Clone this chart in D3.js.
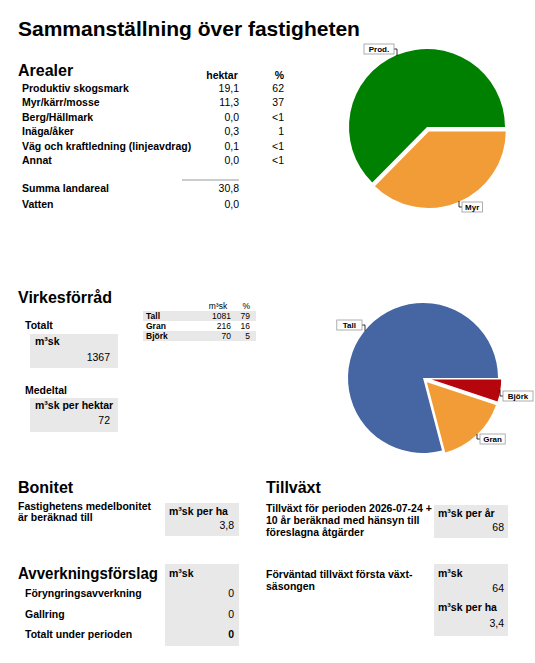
<!DOCTYPE html>
<meta charset="utf-8">
<style>
  body { margin: 0; background: #fff; }
  text { font-family: 'Liberation Sans', Arial, sans-serif; fill: #000; }
  .h1 { font-size: 21px; font-weight: bold; }
  .h2 { font-size: 16px; font-weight: bold; }
  .lbl { font-size: 10.5px; font-weight: bold; }
  .val { font-size: 10.5px; }
  .sm { font-size: 8.5px; }
  .tag { font-size: 8px; font-weight: bold; }
</style>
<script src="https://d3js.org/d3.v7.min.js"></script>
<div id="chart"></div>
<script>
// areal data
var arealNames = ["Produktiv skogsmark", "Myr/kärr/mosse", "Berg/Hällmark", "Inäga/åker", "Väg och kraftledning (linjeavdrag)", "Annat"];
var arealHa = ["19,1", "11,3", "0,0", "0,3", "0,1", "0,0"];
var arealPct = ["62", "37", "<1", "1", "<1", "<1"];
var pieArealLabels = ["Prod.", "Myr"];
var pieArealValues = [62, 37];
var pieArealColors = ["#008000", "#f29c38"];

// virkesförråd data
var tradslag = ["Tall", "Gran", "Björk"];
var tradVol = [1081, 216, 70];
var tradPct = [79, 16, 5];
var tradColors = ["#4565a3", "#f29c38", "#b5060d"];

var svg = d3.select("#chart").append("svg")
  .attr("width", 535).attr("height", 663);

function txt(x, y, s, cls, anchor) {
  return svg.append("text").attr("x", x).attr("y", y)
    .attr("class", cls).attr("text-anchor", anchor || "start").text(s);
}
function box(x, y, w, h) {
  svg.append("rect").attr("x", x).attr("y", y).attr("width", w).attr("height", h).attr("fill", "#e8e8e8");
}

txt(18, 36, "Sammanställning över fastigheten", "h1");

// Arealer table
txt(18, 76, "Arealer", "h2");
txt(222, 79, "hektar", "lbl", "middle");
txt(284, 79, "%", "lbl", "end");
var rowY = d3.scalePoint().domain(arealNames).range([92, 164]);
arealNames.forEach(function (n, i) {
  txt(22, rowY(n), n, "lbl");
  txt(239, rowY(n), arealHa[i], "val", "end");
  txt(284, rowY(n), arealPct[i], "val", "end");
});
svg.append("line").attr("x1", 182).attr("x2", 239).attr("y1", 180).attr("y2", 180)
  .attr("stroke", "#999").attr("stroke-width", 1);
txt(22, 192, "Summa landareal", "lbl");
txt(239, 192, "30,8", "val", "end");
txt(22, 208, "Vatten", "lbl");
txt(239, 208, "0,0", "val", "end");

// pie helper: starts at 3 o'clock, runs counter-clockwise
function drawPie(cx, cy, r, values, colors, labels, offsets, tags) {
  var pie = d3.pie().sort(null).startAngle(Math.PI / 2).endAngle(Math.PI / 2 - 2 * Math.PI);
  var arc = d3.arc().innerRadius(0).outerRadius(r);
  var g = svg.append("g").attr("transform", "translate(" + cx + "," + cy + ")");
  pie(values).forEach(function (d, i) {
    var mid = (d.startAngle + d.endAngle) / 2;
    var off = offsets[i];
    g.append("path").attr("d", arc(d))
      .attr("transform", "translate(" + (Math.sin(mid) * off) + "," + (-Math.cos(mid) * off) + ")")
      .attr("fill", colors[i]).attr("stroke", "#fff").attr("stroke-width", off ? 1.5 : 0);
    var t = tags[i];
    var w = labels[i].length * 4.8 + 6;
    var bx = t.side < 0 ? t.x - w : t.x;
    g.append("path").attr("d", "M" + t.x + "," + (t.y) + "h" + (t.side * -3) + "V" + t.ey)
      .attr("fill", "none").attr("stroke", "#000").attr("stroke-width", 0.8);
    g.append("rect").attr("x", bx).attr("y", t.y - 5).attr("width", w).attr("height", 10)
      .attr("fill", "#fff").attr("stroke", "#999").attr("stroke-width", 0.8);
    g.append("text").attr("x", bx + w / 2).attr("y", t.y + 3).attr("class", "tag")
      .attr("text-anchor", "middle").text(labels[i]);
  });
}

drawPie(427, 127, 78, pieArealValues, pieArealColors, pieArealLabels, [0, 4],
  [{ x: -33, y: -78, side: -1, ey: -71 }, { x: 35, y: 80, side: 1, ey: 74 }]);

// Virkesförråd
txt(18, 303, "Virkesförråd", "h2");
txt(218, 309, "m³sk", "sm", "middle");
txt(250, 309, "%", "sm", "end");
var tRow = d3.scaleBand().domain(tradslag).range([311, 341]);
tradslag.forEach(function (n, i) {
  if (i % 2 === 0) svg.append("rect").attr("x", 143).attr("y", tRow(n)).attr("width", 113)
    .attr("height", tRow.bandwidth()).attr("fill", "#e8e8e8");
  txt(146, tRow(n) + 8, n, "sm").style("font-weight", "bold");
  txt(231, tRow(n) + 8, tradVol[i], "sm", "end");
  txt(250, tRow(n) + 8, tradPct[i], "sm", "end");
});
txt(25, 329, "Totalt", "lbl");
box(30, 334, 88, 34);
txt(35, 345, "m³sk", "lbl");
txt(110, 361, d3.sum(tradVol), "val", "end");
txt(25, 394, "Medeltal", "lbl");
box(30, 398, 88, 34);
txt(35, 409, "m³sk per hektar", "lbl");
txt(110, 424, "72", "val", "end");

drawPie(423, 378, 75, tradVol, tradColors, tradslag, [0, 4, 4],
  [{ x: -61, y: -53, side: -1, ey: -47 }, { x: 57, y: 61, side: 1, ey: 56 }, { x: 80, y: 18, side: 1, ey: 12 }]);

// Bonitet
txt(18, 493, "Bonitet", "h2");
txt(18, 510, "Fastighetens medelbonitet", "lbl");
txt(18, 521, "är beräknad till", "lbl");
box(165, 503, 74, 33);
txt(169, 515, "m³sk per ha", "lbl");
txt(234, 529, "3,8", "val", "end");

// Tillväxt
txt(266, 493, "Tillväxt", "h2");
txt(266, 512, "Tillväxt för perioden 2026-07-24 +", "lbl");
txt(266, 524, "10 år beräknad med hänsyn till", "lbl");
txt(266, 536, "föreslagna åtgärder", "lbl");
box(434, 505, 74, 33);
txt(438, 517, "m³sk per år", "lbl");
txt(504, 531, "68", "val", "end");

// Avverkningsförslag
var avvNames = ["Föryngringsavverkning", "Gallring", "Totalt under perioden"];
var avvVals = [0, 0, 0];
box(165, 564, 74, 82);
txt(18, 579, "Avverkningsförslag", "h2").attr("textLength", 140).attr("lengthAdjust", "spacingAndGlyphs");
txt(169, 577, "m³sk", "lbl");
var aY = d3.scalePoint().domain(avvNames).range([597, 638]);
avvNames.forEach(function (n, i) {
  txt(25, aY(n), n, "lbl");
  txt(234, aY(n), avvVals[i], i === 2 ? "lbl" : "val", "end");
});

// Förväntad tillväxt
txt(266, 578, "Förväntad tillväxt första växt-", "lbl");
txt(266, 590, "säsongen", "lbl");
box(434, 564, 74, 72);
txt(438, 577, "m³sk", "lbl");
txt(504, 592, "64", "val", "end");
txt(438, 611, "m³sk per ha", "lbl");
txt(504, 627, "3,4", "val", "end");
</script>
